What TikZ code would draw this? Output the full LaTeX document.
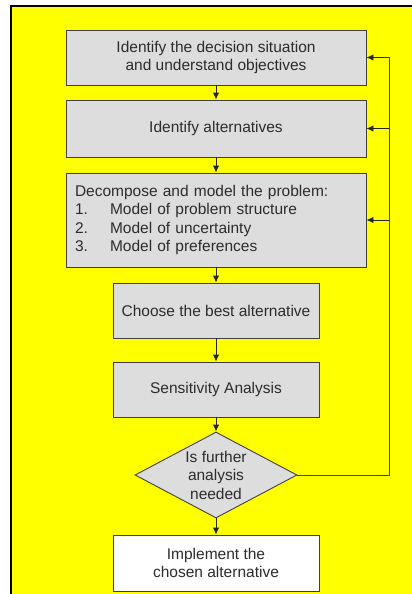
\documentclass[tikz,border=0pt]{standalone}
\usepackage{fontspec}
\setmainfont{Liberation Sans}
\usetikzlibrary{shapes.geometric,arrows.meta}
\definecolor{pageyellow}{HTML}{FFFF00}
\definecolor{boxgray}{HTML}{DDDDDD}
\definecolor{edgegray}{HTML}{404040}
\definecolor{inkgray}{HTML}{2C2C2C}
\begin{document}
\begin{tikzpicture}[x=1pt,y=-1pt,
  every node/.style={font=\fontsize{15.5}{18.5}\selectfont, text=inkgray},
  stepbox/.style={rectangle, draw=edgegray, line width=0.9pt, fill=boxgray,
    inner sep=0pt, align=center},
  decision/.style={diamond, draw=edgegray, line width=0.9pt, fill=boxgray,
    inner sep=0pt, aspect=1.88, align=center},
  flow/.style={draw=black!85, line width=0.9pt,
    -{Latex[length=7pt,width=6.5pt]}},
  loopline/.style={draw=edgegray, line width=0.9pt}]
\useasboundingbox (0,0) rectangle (412,594);
% yellow page with its black top and left edge
\begin{scope}
  \clip (0,0) rectangle (412,594);
  \draw[fill=pageyellow, draw=black, line width=1.4pt] (11,6) rectangle (420,600);
\end{scope}

\node[stepbox, minimum width=300pt, minimum height=55pt] (b1) at (216,57.5)
  {Identify the decision situation\\and understand objectives};
\node[stepbox, minimum width=300pt, minimum height=57pt] (b2) at (216,128.5)
  {Identify alternatives};
\node[stepbox, minimum width=300pt, minimum height=94pt, text width=282pt,
  inner xsep=9pt, align=left] (b3) at (216,220)
  {Decompose and model the problem:\\
   \makebox[35pt][l]{1.}Model of problem structure\\
   \makebox[35pt][l]{2.}Model of uncertainty\\
   \makebox[35pt][l]{3.}Model of preferences};
\node[stepbox, minimum width=206pt, minimum height=55pt] (b4) at (216,310.5)
  {Choose the best alternative};
\node[stepbox, minimum width=206pt, minimum height=55pt] (b5) at (216,389.5)
  {Sensitivity Analysis};
\node[decision, minimum width=162pt, minimum height=86pt] (dec) at (216,475)
  {Is further\\analysis\\needed};
\node[stepbox, fill=white, minimum width=206pt, minimum height=56pt] (b6) at (216,563)
  {Implement the\\chosen alternative};

% main sequence
\draw[flow] (b1.south) -- (b2.north);
\draw[flow] (b2.south) -- (b3.north);
\draw[flow] (b3.south) -- (b4.north);
\draw[flow] (b4.south) -- (b5.north);
\draw[flow] (b5.south) -- (dec.north);
\draw[flow] (dec.south) -- (b6.north);

% feedback loop back to the first three steps
\coordinate (fbtop) at (389,57.5);
\draw[loopline] (dec.east) -| (fbtop);
\draw[flow] (fbtop) -- (b1.east);
\draw[flow] (b2.east -| fbtop) -- (b2.east);
\draw[flow] (b3.east -| fbtop) -- (b3.east);
\end{tikzpicture}
\end{document}
